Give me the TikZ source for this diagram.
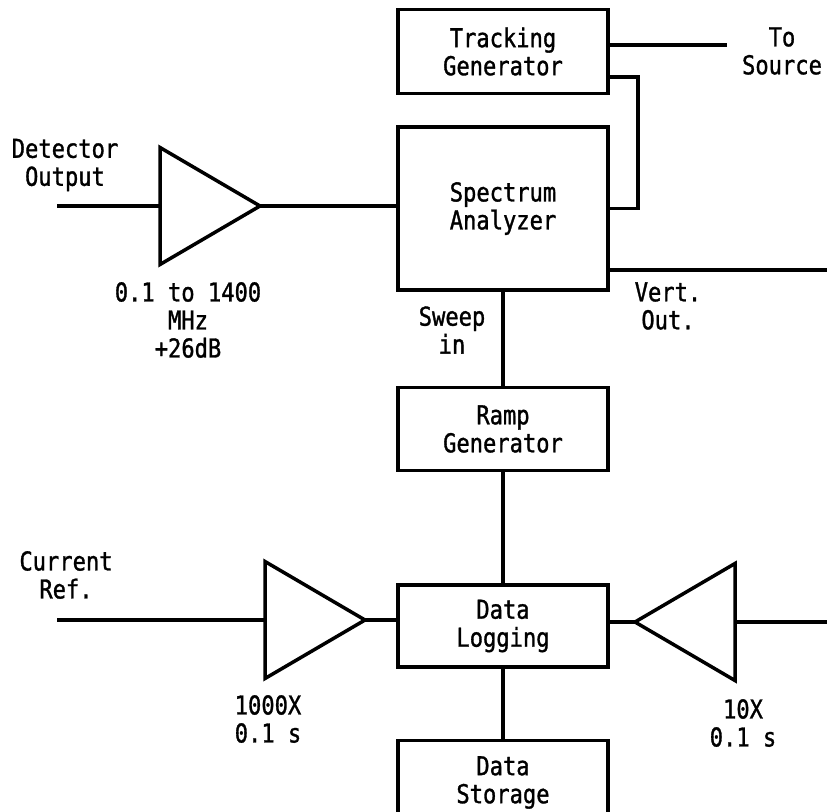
\documentclass[tikz,border=0pt]{standalone}
\usepackage{fontspec}
\newfontfamily\typefont[FakeStretch=0.85, FakeBold=1.2]{DejaVu Sans Mono}
\usetikzlibrary{positioning, shapes.geometric}

\begin{document}
\begin{tikzpicture}[
    x=1pt, y=-1pt,
    line width=3.5pt,
    block/.style={draw, minimum width=210pt, inner sep=0pt, align=center,
                  font=\typefont\fontsize{26}{28}\selectfont},
    amp/.style={draw, isosceles triangle, isosceles triangle stretches,
                minimum width=117pt, minimum height=100pt, inner sep=0pt, outer sep=0pt},
    lbl/.style={align=center, inner sep=0pt, font=\typefont\fontsize{26}{28}\selectfont},
]
\useasboundingbox (0,0) rectangle (827,811);
\clip (0,0) rectangle (827,811);

% === BLOCKS ===
\node[block, minimum height=163pt] (spec) at (503,208.5) {Spectrum\\Analyzer};
\node[block, minimum height=84pt, above=30pt of spec] (track) {Tracking\\Generator};
\node[block, minimum height=83pt, below=94pt of spec] (ramp) {Ramp\\Generator};
\node[block, minimum height=82pt, below=111pt of ramp] (log) {Data\\Logging};
\node[block, minimum height=84pt, below=70pt of log] (store) {Data\\Storage};

% === AMPLIFIERS ===
\node[amp, anchor=apex] (amp1) at (260,206) {};
\node[amp, anchor=apex] (amp2) at (365,620) {};
\node[amp, anchor=apex, rotate=180] (amp3) at (635,622) {};

% free line ends
\coordinate (detin) at (57,206);
\coordinate (curin) at (57,620);
\coordinate (src) at (727,45);
\coordinate (fb) at (638,77);
\coordinate (vout) at (827,270);
\coordinate (vin) at (827,622);

% === CONNECTIONS ===
\draw (detin) -- (amp1.lower side);
\draw (amp1.apex) -- (amp1.apex -| spec.west);
\draw (src -| track.east) -- (src);
\draw (fb -| track.east) -- (fb) |- (spec.east);
\draw (vout -| spec.east) -- (vout);
\draw (spec) -- (ramp);
\draw (ramp) -- (log);
\draw (log) -- (store);
\draw (curin) -- (amp2.lower side);
\draw (amp2.apex) -- (amp2.apex -| log.west);
\draw (log.east |- amp3.apex) -- (amp3.apex);
\draw (amp3.lower side) -- (vin);

% === LABELS ===
\node[lbl] (detlbl) at (65,165) {Detector\\Output};
\node[lbl] (amp1lbl) at (188,320) {0.1 to 1400\\MHz\\+26dB};
\node[lbl] (sweeplbl) at (452,330) {Sweep\\in};
\node[lbl] (vertlbl) at (668,306) {Vert.\\Out.};
\node[lbl] (srclbl) at (782,51) {To\\Source};
\node[lbl] (curlbl) at (66,575) {Current\\Ref.};
\node[lbl] (amp2lbl) at (268,719) {1000X\\0.1 s};
\node[lbl] (amp3lbl) at (743,723) {10X\\0.1 s};

\end{tikzpicture}
\end{document}
